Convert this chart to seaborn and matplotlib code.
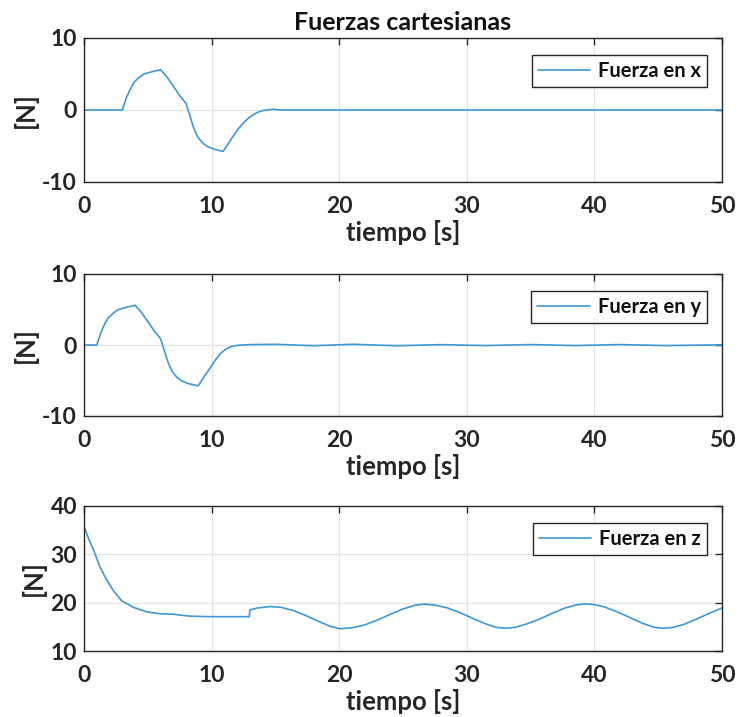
import matplotlib
matplotlib.use("Agg")
import matplotlib.pyplot as plt
import seaborn as sns

# Datos
t_x = [0, 3.0, 3.3, 3.6, 3.9, 4.3, 4.7, 5.3, 6.0, 6.5, 7.0, 7.5, 8.0, 8.3, 8.6, 8.9,
       9.3, 9.7, 10.2, 10.9, 11.3, 11.7, 12.1, 12.5, 12.9, 13.3, 13.7, 14.1, 14.8, 15.5, 50]
f_x = [0, 0, 1.6, 2.8, 3.8, 4.5, 5.0, 5.3, 5.6, 4.6, 3.3, 2.0, 0.9, -0.8, -2.5, -3.7,
       -4.6, -5.1, -5.45, -5.75, -4.7, -3.6, -2.6, -1.8, -1.1, -0.6, -0.25, -0.05, 0.1, 0, 0]

t_y = [0, 1.0, 1.3, 1.6, 1.9, 2.3, 2.7, 3.3, 4.0, 4.5, 5.0, 5.5, 6.0, 6.3, 6.6, 6.9,
       7.3, 7.7, 8.2, 8.95, 9.4, 9.9, 10.3, 10.7, 11.1, 11.5, 12.0, 13.0, 15.0, 18.0,
       21.0, 24.5, 28.0, 31.5, 35.0, 38.5, 42.0, 45.5, 50]
f_y = [0, 0, 1.6, 2.9, 3.8, 4.5, 5.0, 5.3, 5.6, 4.6, 3.3, 2.0, 0.9, -0.8, -2.5, -3.7,
       -4.6, -5.1, -5.45, -5.75, -4.5, -3.2, -2.1, -1.2, -0.6, -0.25, -0.05, 0.05, 0.1, -0.1,
       0.1, -0.1, 0.05, -0.08, 0.06, -0.08, 0.06, -0.08, 0.02]

t_z = [0, 0.35, 0.75, 1.25, 1.8, 2.3, 2.95, 3.9, 4.9, 6.0, 7.0, 8.3, 10.0, 12.95, 13.0,
       13.6, 14.6, 15.5, 16.5, 17.5, 18.5, 19.3, 20.1, 21.0, 22.0, 23.0, 24.0, 25.0, 26.0,
       26.7, 27.5, 28.5, 29.5, 30.5, 31.5, 32.3, 33.0, 33.8, 34.7, 35.7, 36.7, 37.7, 38.7,
       39.3, 40.0, 40.8, 41.8, 42.8, 43.8, 44.7, 45.4, 46.2, 47.0, 48.0, 49.0, 50.0]
f_z = [35.8, 33.3, 30.9, 27.4, 24.6, 22.5, 20.4, 19.0, 18.1, 17.7, 17.6, 17.2, 17.1, 17.1, 18.5,
       18.9, 19.2, 19.0, 18.3, 17.2, 16.0, 15.1, 14.6, 14.8, 15.4, 16.4, 17.6, 18.7, 19.5,
       19.7, 19.5, 18.9, 17.9, 16.7, 15.6, 14.9, 14.7, 14.9, 15.6, 16.6, 17.8, 18.9, 19.6,
       19.75, 19.6, 19.1, 18.1, 16.9, 15.7, 14.9, 14.7, 14.9, 15.5, 16.6, 17.8, 18.9]

series = [
    (t_x, f_x, 'Fuerza en x', (-10, 10), [-10, 0, 10]),
    (t_y, f_y, 'Fuerza en y', (-10, 10), [-10, 0, 10]),
    (t_z, f_z, 'Fuerza en z', (10, 40), [10, 20, 30, 40]),
]

sns.set_theme(style="whitegrid")
plt.rcParams['font.family'] = ['Lato', 'DejaVu Sans']
plt.rcParams['font.weight'] = 'bold'
plt.rcParams['axes.unicode_minus'] = False
gris = '#262626'
azul = '#3f98d6'

fig = plt.figure(figsize=(7.38, 7.17), dpi=100)
W, H = 738, 717
# posiciones de los ejes en píxeles (arriba, abajo)
filas = [(38, 182), (274, 416), (506, 651)]

for (t, f, nombre, ylim, yticks), (arriba, abajo) in zip(series, filas):
    ax = fig.add_axes([84 / W, 1 - abajo / H, (722 - 84) / W, (abajo - arriba) / H])
    sns.lineplot(x=t, y=f, ax=ax, color=azul, lw=1.2, label=nombre)
    ax.set_xlim(0, 50)
    ax.set_ylim(*ylim)
    ax.set_xticks([0, 10, 20, 30, 40, 50])
    ax.set_yticks(yticks)
    ax.grid(True, color='#e3e3e3', lw=0.9)
    for s in ax.spines.values():
        s.set_color(gris)
        s.set_linewidth(1.0)
    ax.tick_params(direction='in', length=5, width=1, color=gris, labelcolor=gris,
                   labelsize=16.5, top=True, right=True, pad=5)
    ax.tick_params(axis='x', pad=10)
    for lab in ax.get_xticklabels() + ax.get_yticklabels():
        lab.set_fontweight('bold')
    ax.set_xlabel('tiempo [s]', fontsize=18.5, fontweight='bold', color=gris, labelpad=2)
    ax.set_ylabel('[N]', fontsize=18.5, fontweight='bold', color=gris, labelpad=3)
    leg = ax.legend(loc='upper right', bbox_to_anchor=(1 - 15 / 638, 1 - 17 / 144),
                    borderaxespad=0, fancybox=False, framealpha=1, edgecolor=gris,
                    handlelength=2.6, handletextpad=0.4, borderpad=0.3,
                    prop={'weight': 'bold', 'size': 14.5})
    leg.get_frame().set_linewidth(1.0)
    for tx in leg.get_texts():
        tx.set_color('#111111')
    if nombre == 'Fuerza en x':
        ax.set_title('Fuerzas cartesianas', fontsize=18, fontweight='bold', color='#111111', pad=6)

fig.savefig('out.png', dpi=100)
